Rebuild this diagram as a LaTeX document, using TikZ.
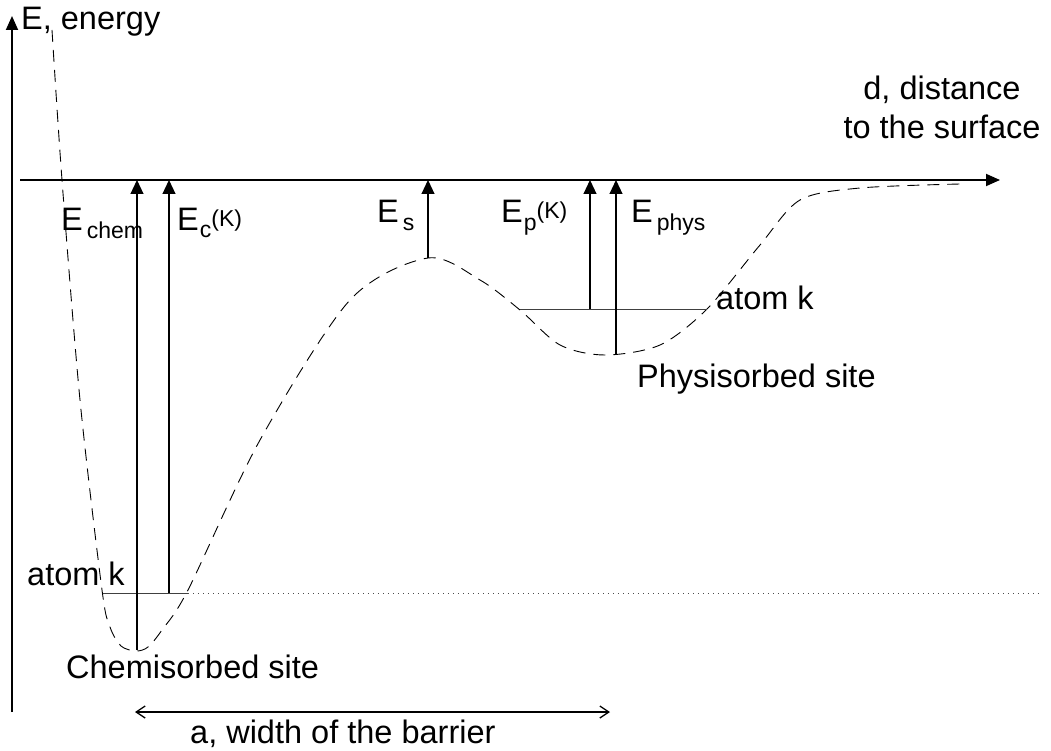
\documentclass[tikz,border=0pt]{standalone}
\usepackage{fontspec}
\setmainfont{Liberation Sans}
\usetikzlibrary{arrows.meta}
\newcommand\EL[2]{E\kern1pt\raisebox{-7pt}{\fontsize{23}{23}\selectfont #1}\raisebox{4pt}{\fontsize{23}{23}\selectfont #2}}
\begin{document}
\begin{tikzpicture}[x=1pt,y=-1pt,
  axis/.style={line width=1.8pt,-{Triangle[length=14pt,width=12pt]}},
  earrow/.style={line width=1.1pt,-{Triangle[length=14pt,width=13pt]}},
  level/.style={line width=0.9pt,draw=black!75},
  curve/.style={line width=0.9pt,dash pattern=on 12pt off 8pt},
  lab/.style={inner sep=0pt,anchor=base west,font=\fontsize{32.5}{38}\selectfont}]
\useasboundingbox (0,0) rectangle (1051,751);
% axes
\coordinate (yb) at (12,712);
\coordinate (yt) at (12,16);
\coordinate (xl) at (20,180);
\coordinate (xr) at (1000,180);
\draw[axis] (yb) -- (yt);
\draw[axis] (xl) -- (xr);
\node[lab] (elab) at (21,30) {E, energy};
\node[inner sep=0pt,align=center,font=\fontsize{32.5}{39}\selectfont] (dlab) at (942,107) {d, distance\\to the surface};
% potential curve
\draw[curve] plot[smooth,tension=0.5] coordinates {(52,30) (62,180) (80,400) (102,590) (110,627) (121,646) (136,651) (148,647) (162,630) (188,590) (260,440) (350,300) (428,258) (480,280) (520,310) (560,345) (605,355) (660,345) (707,309) (760,245) (800,200) (860,188) (960,184)};
% levels
\coordinate (cl) at (103,593);
\coordinate (cr) at (188,593);
\coordinate (dr) at (1040,593);
\draw[level] (cl) -- (cr);
\draw[line width=0.9pt,draw=black!70,dash pattern=on 1pt off 4pt] (cr) -- (dr);
\coordinate (pl) at (520,309);
\coordinate (pr) at (707,309);
\draw[level] (pl) -- (pr);
% energy arrows
\coordinate (chb) at (137,650); \coordinate (cht) at (137,180);
\coordinate (ckb) at (169,593); \coordinate (ckt) at (169,180);
\coordinate (esb) at (428,258); \coordinate (est) at (428,180);
\coordinate (epb) at (590,309); \coordinate (ept) at (590,180);
\coordinate (phb) at (616,355); \coordinate (pht) at (616,180);
\draw[earrow] (chb) -- (cht);
\draw[earrow] (ckb) -- (ckt);
\draw[earrow] (esb) -- (est);
\draw[earrow] (epb) -- (ept);
\draw[earrow] (phb) -- (pht);
\node[lab] (lchem) at (61,230) {E\kern4pt\raisebox{-9pt}{\fontsize{23}{23}\selectfont chem}};
\node[lab] (lck) at (177,230) {\EL{c}{(K)}};
\node[lab] (les) at (377,223) {E\kern4pt\raisebox{-7pt}{\fontsize{23}{23}\selectfont s}};
\node[lab] (lpk) at (501,223) {\EL{p}{(K)}};
\node[lab] (lph) at (631,223) {E\kern4pt\raisebox{-7pt}{\fontsize{23}{23}\selectfont phys}};
\node[lab] (atp) at (716,309) {atom k};
\node[lab] (atc) at (27,585) {atom k};
\node[lab] (phs) at (637,387) {Physisorbed site};
\node[lab] (chs) at (66,678) {Chemisorbed site};
% barrier width
\coordinate (al) at (135,712);
\coordinate (ar) at (610,712);
\draw[line width=1.3pt,{Straight Barb[length=9pt,width=12pt]}-{Straight Barb[length=9pt,width=12pt]}] (al) -- (ar);
\node[lab] (wl) at (190,743) {a, width of the barrier};
\end{tikzpicture}
\end{document}
